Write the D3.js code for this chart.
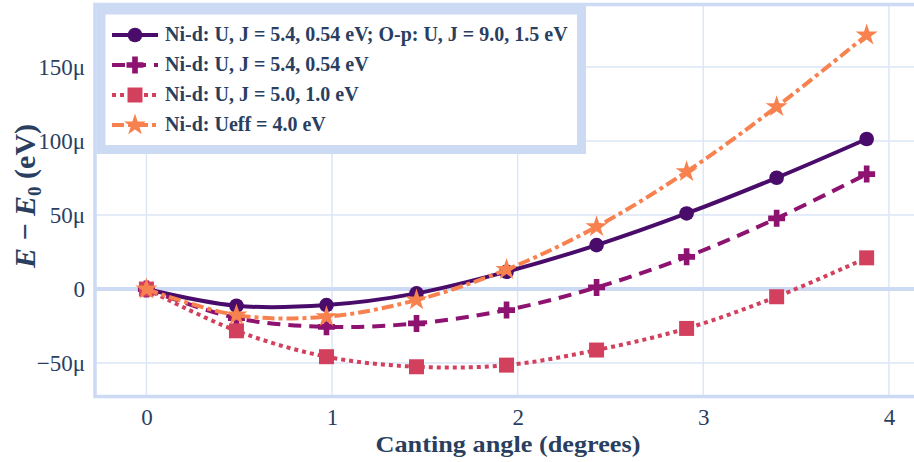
<!DOCTYPE html>
<html><head><meta charset="utf-8">
<script src="https://cdn.jsdelivr.net/npm/d3@7"></script>
<style>body{margin:0;background:#fff}svg{display:block}</style>
</head><body>
<svg id="c" width="914" height="462"></svg>
<script>
// ---- data ----
const angles = [0, 0.485, 0.97, 1.455, 1.94, 2.425, 2.91, 3.395, 3.88];
const seriesNames = [
  "Ni-d: U, J = 5.4, 0.54 eV; O-p: U, J = 9.0, 1.5 eV",
  "Ni-d: U, J = 5.4, 0.54 eV",
  "Ni-d: U, J = 5.0, 1.0 eV",
  "Ni-d: Ueff = 4.0 eV"
];
// energies in micro-eV
const sOP   = [0, -11.3, -10.8, -2.9, 11.7, 29.7, 51.1, 75.2, 101.4];
const sU54  = [0, -19.6, -25.5, -23.2, -14.2, 1.1, 21.8, 47.8, 77.7];
const sU50  = [0, -28.2, -45.7, -52.5, -51.4, -41.2, -26.6, -5.2, 21.1];
const sUeff = [0, -17.6, -18.7, -7.4, 13.2, 42.1, 79.3, 123.2, 171.6];
const xTicks = [0, 1, 2, 3, 4];
const yTicks = [-50, 0, 50, 100, 150];
const yTickLabels = ["\u221250\u03bc", "0", "50\u03bc", "100\u03bc", "150\u03bc"];

const series = [
  {name: seriesNames[0], values: sOP,   color: "#4a0c6b", dash: null,       symbol: d3.symbolCircle, size: 168},
  {name: seriesNames[1], values: sU54,  color: "#8e1270", dash: "13,8",     symbol: d3.symbolCross,  size: 160},
  {name: seriesNames[2], values: sU50,  color: "#d3405e", dash: "4,4",      symbol: d3.symbolSquare, size: 225},
  {name: seriesNames[3], values: sUeff, color: "#f7824f", dash: "12,4,4,4", symbol: d3.symbolStar,   size: 150}
];

const svg = d3.select("#c");
const L = 95, R = 914, T = 4.5, B = 396.5;
const x = d3.scaleLinear().domain([-0.277, 4.135]).range([L, R]);
const y = d3.scaleLinear().domain([-72.6, 192.3]).range([B, T]);
const frameCol = "#ccdaf4", gridCol = "#dce6f7", textCol = "#2a3f5f";
const serif = "'Liberation Serif', 'DejaVu Serif', serif";

// grid
const g = svg.append("g");
g.selectAll(".gx").data(xTicks).join("line")
  .attr("x1", d => x(d)).attr("x2", d => x(d)).attr("y1", T).attr("y2", B)
  .attr("stroke", gridCol).attr("stroke-width", 1.5);
g.selectAll(".gy").data(yTicks.filter(d => d !== 0)).join("line")
  .attr("x1", L).attr("x2", R).attr("y1", d => y(d)).attr("y2", d => y(d))
  .attr("stroke", gridCol).attr("stroke-width", 1.5);
g.append("line").attr("x1", L).attr("x2", R).attr("y1", y(0)).attr("y2", y(0))
  .attr("stroke", frameCol).attr("stroke-width", 4);
g.append("path").attr("d", `M${R},${T}H${L}V${B}H${R}`)
  .attr("fill", "none").attr("stroke", frameCol).attr("stroke-width", 3.5);

// axes
const xAxis = d3.axisBottom(x).tickValues(xTicks).tickSize(0).tickFormat(d3.format("d"));
const xa = svg.append("g").attr("transform", `translate(0,${B + 9})`).call(xAxis);
xa.select(".domain").remove();
xa.selectAll("text").attr("fill", textCol).style("font-family", serif).style("font-size", "23px");

const yAxis = d3.axisLeft(y).tickValues(yTicks).tickSize(0).tickFormat((d, i) => yTickLabels[i]);
const ya = svg.append("g").attr("transform", `translate(${L - 7},0)`).call(yAxis);
ya.select(".domain").remove();
ya.selectAll("text").attr("fill", textCol).style("font-family", serif).style("font-size", "23px");

// axis titles
svg.append("text").attr("x", 508).attr("y", 452).attr("text-anchor", "middle")
  .attr("textLength", 265).attr("lengthAdjust", "spacingAndGlyphs")
  .attr("fill", textCol).style("font-family", serif).style("font-weight", "bold").style("font-size", "23px")
  .text("Canting angle (degrees)");
const yt = svg.append("text").attr("transform", "translate(35,196) rotate(-90)").attr("text-anchor", "middle")
  .attr("fill", textCol).style("font-family", serif).style("font-weight", "bold").style("font-size", "30px");
yt.append("tspan").style("font-style", "italic").text("E");
yt.append("tspan").text(" \u2212 ");
yt.append("tspan").style("font-style", "italic").text("E");
yt.append("tspan").attr("dy", 6).style("font-size", "19px").text("0");
yt.append("tspan").attr("dy", -6).text(" (eV)");

// series
const line = d3.line().x((d, i) => x(angles[i])).y(d => y(d)).curve(d3.curveCatmullRom.alpha(0.5));
series.forEach(s => {
  const sg = svg.append("g");
  sg.append("path").attr("d", line(s.values)).attr("fill", "none")
    .attr("stroke", s.color).attr("stroke-width", 4)
    .attr("stroke-dasharray", s.dash);
  sg.selectAll("path.m").data(s.values).join("path").attr("class", "m")
    .attr("transform", (d, i) => `translate(${x(angles[i])},${y(d)})`)
    .attr("d", d3.symbol(s.symbol, s.size)).attr("fill", s.color);
});

// legend
const lg = svg.append("g");
lg.append("rect").attr("x", 101).attr("y", 10).attr("width", 480.5).attr("height", 139.5)
  .attr("fill", "#fff").attr("stroke", frameCol).attr("stroke-width", 9);
series.forEach((s, i) => {
  const cy = 35 + i * 30;
  lg.append("line").attr("x1", 112).attr("x2", 158).attr("y1", cy).attr("y2", cy)
    .attr("stroke", s.color).attr("stroke-width", 4).attr("stroke-dasharray", s.dash);
  lg.append("path").attr("transform", `translate(135,${cy})`)
    .attr("d", d3.symbol(s.symbol, s.size)).attr("fill", s.color);
  lg.append("text").attr("class", "lt").attr("x", 165).attr("y", cy + 6)
    .attr("fill", textCol).style("font-family", serif).style("font-weight", "bold").style("font-size", "16px")
    .text(s.name);
});
const first = lg.select("text.lt").node();
const fs = 16 * 403 / first.getComputedTextLength();
lg.selectAll("text.lt").style("font-size", fs + "px");
</script>
</body></html>
